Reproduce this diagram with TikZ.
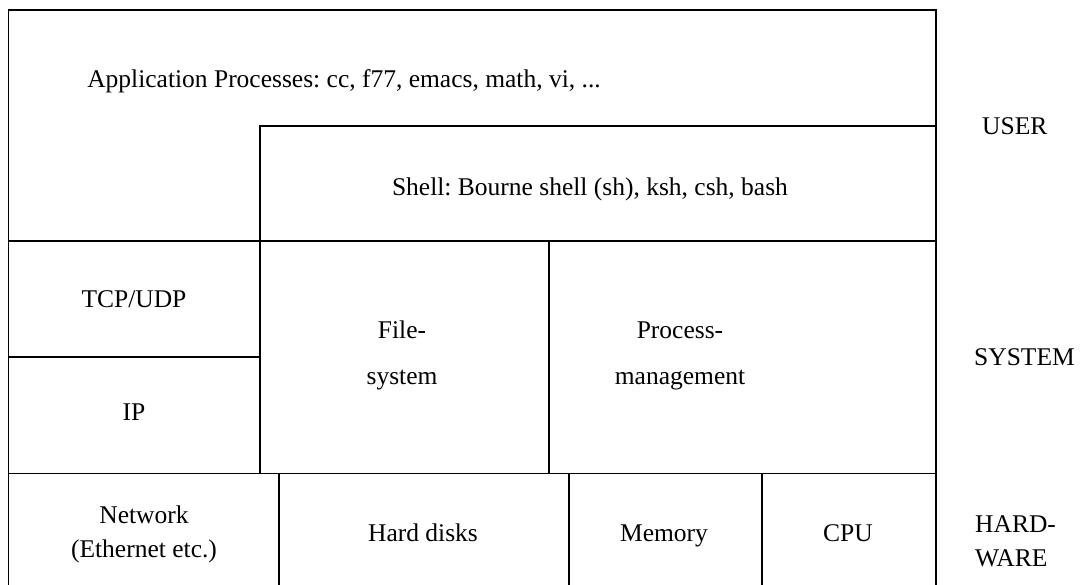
\documentclass[tikz,border=0pt]{standalone}
\usepackage{fontspec}
\setmainfont{Liberation Serif}
\frenchspacing
\begin{document}
\begin{tikzpicture}[x=1pt,y=-1pt,
  frame/.style={line width=1.4pt,line cap=rect},
  lbl/.style={font=\fontsize{25.5}{30}\selectfont,inner sep=0pt,align=center,anchor=base},
  lbltwo/.style={lbl,font=\fontsize{25.5}{47}\selectfont},
  lblhw/.style={lbl,font=\fontsize{25.5}{34}\selectfont}]
\useasboundingbox[fill=white] (0,0) rectangle (1080,585);
% outer frame (bottom edge lies below the page)
\draw[frame] (8.5,600) -- (8.5,10) -- (936,10) -- (936,600);
% shell box
\draw[frame] (260,126) -- (936,126);
\draw[frame] (260,126) -- (260,473.5);
% layer separators
\draw[frame] (8.5,241) -- (936,241);
\draw[frame] (8.5,473.5) -- (936,473.5);
\draw[frame] (8.5,357) -- (260,357);
\draw[frame] (549,241) -- (549,473.5);
% hardware columns
\draw[frame] (279,473.5) -- (279,600);
\draw[frame] (569,473.5) -- (569,600);
\draw[frame] (762,473.5) -- (762,600);
% texts (base anchor = baseline of the last line)
\node[lbl] (app) at (344,88) {Application Processes: cc, f77, emacs, math, vi, ...};
\node[lbl] (shell) at (590,196) {Shell: Bourne shell (sh), ksh, csh, bash};
\node[lbl] (tcp) at (134,308) {TCP/UDP};
\node[lbl] (ip) at (134,421) {IP};
\node[lbltwo] (fs) at (402,385) {File-\\system};
\node[lbltwo] (pm) at (680,385) {Process-\\management};
\node[lblhw] (net) at (144,557) {Network\\(Ethernet etc.)};
\node[lbl] (hd) at (423,541) {Hard disks};
\node[lbl] (mem) at (664,541) {Memory};
\node[lbl] (cpu) at (848,541) {CPU};
\node[lbl,anchor=base west] (user) at (982,135) {USER};
\node[lbl,anchor=base west] (sys) at (974,366) {SYSTEM};
\node[lblhw,align=left,anchor=base west] (hw) at (975,566) {HARD-\\WARE};
\end{tikzpicture}
\end{document}
